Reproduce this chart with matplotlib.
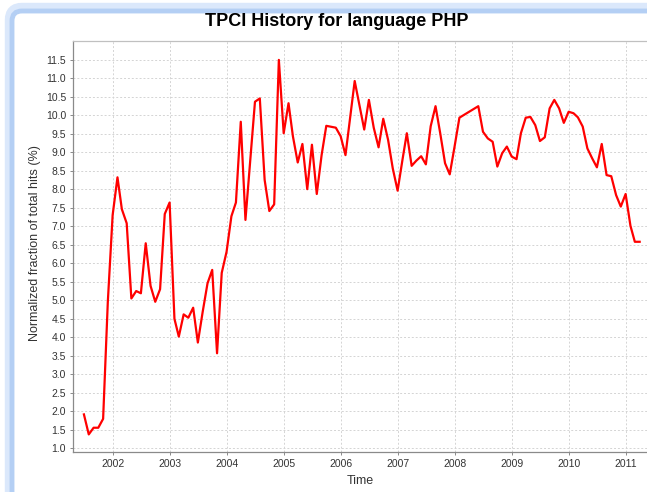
import matplotlib
matplotlib.use("Agg")
import matplotlib.pyplot as plt
import matplotlib.dates as mdates
from matplotlib.patches import FancyBboxPatch
from matplotlib.transforms import IdentityTransform
import datetime as dt

# ---- data (monthly index from 2001-07, value in %) ----
month_index = [0, 1, 2, 3, 4, 5, 6, 7, 8, 9, 10, 11, 12, 13, 14, 15, 16, 17, 18, 19,
               20, 21, 22, 23, 24, 25, 26, 27, 28, 29, 30, 31, 32, 33, 34, 36, 37, 38, 39, 40,
               41, 42, 43, 44, 45, 46, 47, 48, 49, 50, 51, 53, 54, 55, 57, 59, 60, 61, 62, 63,
               64, 65, 66, 67, 68, 69, 70, 71, 72, 73, 74, 75, 76, 77, 78, 79, 83, 84, 85, 86,
               87, 88, 89, 90, 91, 92, 93, 94, 95, 96, 97, 98, 99, 100, 101, 102, 103, 104, 105, 106,
               107, 108, 109, 110, 111, 112, 113, 114, 115, 116, 117]
values = [1.92, 1.38, 1.56, 1.56, 1.80, 4.95, 7.30, 8.32, 7.46, 7.08, 5.05, 5.25, 5.19, 6.54, 5.39, 4.96, 5.30, 7.33, 7.64, 4.50,
          4.02, 4.62, 4.53, 4.80, 3.86, 4.69, 5.46, 5.82, 3.57, 5.74, 6.31, 7.27, 7.64, 9.82, 7.17, 10.36, 10.45, 8.25, 7.41, 7.59,
          11.49, 9.51, 10.32, 9.43, 8.72, 9.22, 8.00, 9.20, 7.87, 8.92, 9.71, 9.66, 9.43, 8.92, 10.92, 9.61, 10.41, 9.66, 9.13, 9.90,
          9.33, 8.56, 7.96, 8.79, 9.51, 8.63, 8.77, 8.89, 8.67, 9.70, 10.24, 9.51, 8.70, 8.40, 9.15, 9.93, 10.24, 9.55, 9.37, 9.28,
          8.61, 8.97, 9.15, 8.88, 8.81, 9.51, 9.93, 9.95, 9.73, 9.30, 9.40, 10.18, 10.41, 10.18, 9.79, 10.09, 10.05, 9.94, 9.69, 9.10,
          8.83, 8.59, 9.22, 8.38, 8.35, 7.84, 7.53, 7.87, 7.01, 6.58, 6.58]
start_year, start_month = 2001, 7
year_ticks = list(range(2002, 2012))
y_ticks = [1.0 + 0.5 * i for i in range(22)]
title = "TPCI History for language PHP"
x_label = "Time"
y_label = "Normalized fraction of total hits (%)"


def month_date(k):
    m = start_month - 1 + k
    return dt.date(start_year + m // 12, m % 12 + 1, 1)


dates = [month_date(k) for k in month_index]

plt.rcParams['font.family'] = ['Liberation Sans', 'DejaVu Sans']

W, H = 647, 492
fig = plt.figure(figsize=(W / 100, H / 100), dpi=100)
fig.patch.set_facecolor('white')

# decorative rounded frame (top/left visible)
outer = FancyBboxPatch((10, -40), 700, H - 8 + 40, boxstyle="round,pad=0,rounding_size=12",
                       transform=IdentityTransform(), facecolor='none',
                       edgecolor='#dbe8fb', linewidth=7.5, zorder=-5)
inner = FancyBboxPatch((12, -40), 700, H - 11 + 40, boxstyle="round,pad=0,rounding_size=10",
                       transform=IdentityTransform(), facecolor='white',
                       edgecolor='#b4cff4', linewidth=3.5, zorder=-4)
fig.patches.extend([outer, inner])

left_px, right_px, top_px, bottom_px = 73, 647, 41, 452
ax = fig.add_axes([left_px / W, (H - bottom_px) / H, (right_px - left_px) / W,
                   (bottom_px - top_px) / H])
ax.set_facecolor('white')

ax.plot(dates, values, color='#ff0000', linewidth=1.6, solid_joinstyle='round', zorder=3)

ax.set_xlim(mdates.date2num(dt.date(2001, 4, 22)), mdates.date2num(dt.date(2011, 5, 18)))
ax.set_ylim(0.905, 12.0)

ax.set_xticks([mdates.date2num(dt.date(y, 1, 1)) for y in year_ticks])
ax.set_xticklabels([str(y) for y in year_ticks])
ax.set_yticks(y_ticks)
ax.set_yticklabels([f"{v:.1f}" for v in y_ticks])

ax.grid(True, color='#d4d4d4', linestyle=(0, (2, 2)), linewidth=0.7)
ax.set_axisbelow(True)

for s in ['left', 'bottom']:
    ax.spines[s].set_color('#8a8a8a')
    ax.spines[s].set_linewidth(0.9)
ax.spines['top'].set_color('#c0c0c0')
ax.spines['top'].set_linewidth(0.9)
ax.spines['right'].set_visible(False)

ax.tick_params(axis='both', colors='#8a8a8a', length=2, width=0.7, labelsize=7.5,
               labelcolor='#333333', pad=3)

ax.set_xlabel(x_label, fontsize=9, color='#333333')
ax.set_ylabel(y_label, fontsize=9, color='#333333')
ax.xaxis.set_label_coords(360 / W, (H - 481) / H, transform=fig.transFigure)
ax.xaxis.label.set_va('center')
ax.yaxis.set_label_coords(35 / W, (H - 243) / H, transform=fig.transFigure)
ax.yaxis.label.set_va('center')

fig.text(337 / W, (H - 22) / H, title, ha='center', va='center', fontsize=13,
         fontweight='bold', color='black')

fig.savefig('out.png', dpi=100)
